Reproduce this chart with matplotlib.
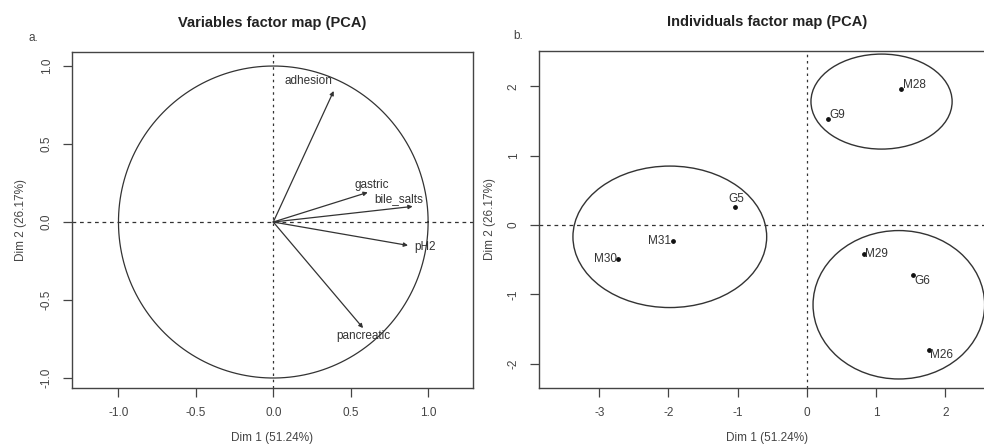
import numpy as np
import matplotlib.pyplot as plt
from matplotlib.patches import Ellipse, FancyArrowPatch

plt.rcParams['font.family'] = ['Liberation Sans', 'DejaVu Sans']
plt.rcParams['axes.unicode_minus'] = False

# variables (correlation circle)
var_names = ['adhesion', 'gastric', 'bile_salts', 'pH2', 'pancreatic']
var_dim1 = [0.39, 0.61, 0.90, 0.87, 0.58]
var_dim2 = [0.84, 0.19, 0.10, -0.15, -0.68]

# individuals
ind_names = ['M28', 'G9', 'G5', 'M31', 'M30', 'M29', 'G6', 'M26']
ind_dim1 = [1.36, 0.30, -1.04, -1.94, -2.73, 0.82, 1.53, 1.76]
ind_dim2 = [1.96, 1.53, 0.26, -0.23, -0.49, -0.42, -0.72, -1.80]

# cluster ellipses: centre x, centre y, width, height
ell_cx = [1.08, -1.98, 1.33]
ell_cy = [1.78, -0.17, -1.15]
ell_w = [2.04, 2.80, 2.48]
ell_h = [1.37, 2.04, 2.14]

xlab = 'Dim 1 (51.24%)'
ylab = 'Dim 2 (26.17%)'

dark = '#333333'
grey = '#444444'

fig = plt.figure(figsize=(9.84, 4.47), dpi=100)

def style_axes(ax, ypad):
    for s in ax.spines.values():
        s.set_color(grey)
        s.set_linewidth(1.0)
    ax.tick_params(direction='out', length=6.5, width=0.9, color=grey,
                   labelsize=8.5, labelcolor=grey, pad=7.5)
    for lab in ax.get_yticklabels():
        lab.set_rotation(90)
        lab.set_va('center')
    ax.set_xlabel(xlab, fontsize=8.5, color=grey, labelpad=9)
    ax.set_ylabel(ylab, fontsize=8.5, color=grey, labelpad=ypad)

# ---- a. variables factor map
ax1 = fig.add_axes([0.0732, 0.132, 0.4075, 0.7517])
ax1.set_xlim(-1.3, 1.29)
ax1.set_ylim(-1.064, 1.09)
t = np.linspace(0, 2 * np.pi, 400)
ax1.plot(np.cos(t), np.sin(t), color=dark, lw=0.9)
ax1.axhline(0, color=dark, lw=0.9, ls=(0, (3, 3)))
ax1.axvline(0, color=dark, lw=0.9, ls=(0, (2, 3)))
var_off = {'adhesion': (-18, 7, 'center'), 'gastric': (3, 5, 'center'),
           'bile_salts': (-10, 5, 'center'), 'pH2': (12, -1, 'center'),
           'pancreatic': (0, -6, 'center')}
for n, x, y in zip(var_names, var_dim1, var_dim2):
    ax1.add_patch(FancyArrowPatch((0, 0), (x, y), arrowstyle='-|>', mutation_scale=6,
                                  color=dark, lw=0.9, shrinkA=0, shrinkB=0))
    dx, dy, ha = var_off[n]
    ax1.annotate(n, (x, y), xytext=(dx, dy), textcoords='offset points',
                 ha=ha, va='center', fontsize=8.5, color=dark)
ax1.set_xticks([-1.0, -0.5, 0.0, 0.5, 1.0])
ax1.set_yticks([-1.0, -0.5, 0.0, 0.5, 1.0])
ax1.set_xticklabels(['-1.0', '-0.5', '0.0', '0.5', '1.0'])
ax1.set_yticklabels(['-1.0', '-0.5', '0.0', '0.5', '1.0'])
style_axes(ax1, 10)
ax1.set_title('Variables factor map (PCA)', fontsize=10.5, fontweight='bold',
              color='#222222', pad=18)
fig.text(33 / 984, 1 - 38 / 447, 'a.', fontsize=8.5, color=grey, ha='center', va='center')

# ---- b. individuals factor map
ax2 = fig.add_axes([0.5478, 0.132, 0.4634, 0.754])
ax2.set_xlim(-3.87, 2.72)
ax2.set_ylim(-2.35, 2.51)
ax2.axhline(0, color=dark, lw=0.9, ls=(0, (3, 3)))
ax2.axvline(0, color=dark, lw=0.9, ls=(0, (2, 3)))
for cx, cy, w, h in zip(ell_cx, ell_cy, ell_w, ell_h):
    ax2.add_patch(Ellipse((cx, cy), w, h, fill=False, ec=dark, lw=1.0))
ax2.scatter(ind_dim1, ind_dim2, s=6, color='#111111', zorder=3)
ind_off = {'M28': (1.5, 3, 'left'), 'G9': (1.5, 3, 'left'), 'G5': (1, 6, 'center'),
           'M31': (-1, 0, 'right'), 'M30': (-1, 0, 'right'), 'M29': (1, 0, 'left'),
           'G6': (1, -4, 'left'), 'M26': (1, -4, 'left')}
for n, x, y in zip(ind_names, ind_dim1, ind_dim2):
    dx, dy, ha = ind_off[n]
    ax2.annotate(n, (x, y), xytext=(dx, dy), textcoords='offset points',
                 ha=ha, va='center', fontsize=8.5, color=dark)
ax2.set_xticks([-3, -2, -1, 0, 1, 2])
ax2.set_yticks([-2, -1, 0, 1, 2])
style_axes(ax2, 8)
ax2.spines['right'].set_visible(False)
ax2.set_title('Individuals factor map (PCA)', fontsize=10.5, fontweight='bold',
              color='#222222', pad=18)
fig.text(518 / 984, 1 - 36 / 447, 'b.', fontsize=8.5, color=grey, ha='center', va='center')

fig.savefig('out.png', dpi=100)
